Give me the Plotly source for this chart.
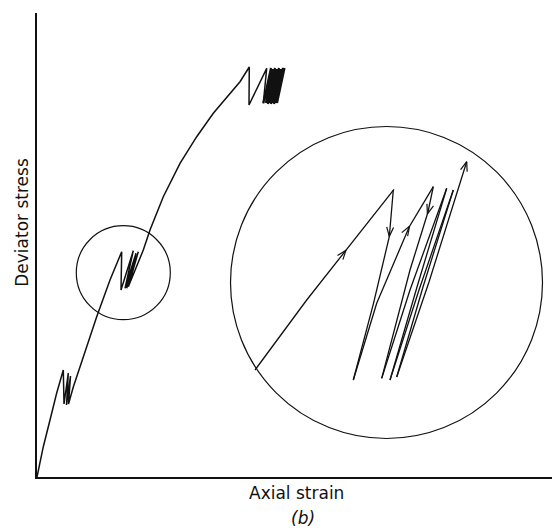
import numpy as np
import plotly.graph_objects as go

# ---------------- data (strain, stress in arbitrary units) ----------------
# main stress-strain curve with unload/reload cycles
curve_strain = [0, 6.3, 13, 19.7, 26.3,
                27, 31.3, 29.5, 33.5, 31.5, 36.3,
                46.3, 59.7, 73, 84.7,
                84, 96.3, 88, 99, 89.7, 101.3, 91.3, 104.7,
                106.3, 113, 126.3, 143, 159.7, 176.3, 193, 203, 212.3,
                212, 229.7, 226.3]
curve_stress = [0, 30.3, 57, 84, 107,
                73, 104, 72, 101, 73, 90,
                120.3, 160.3, 197, 225.3,
                187, 226.3, 188.7, 223.7, 188.7, 225.3, 190.3, 223.7,
                227, 247, 280.3, 313.7, 340.3, 363.7, 383.7, 395.3, 410,
                372, 408.7, 373.7]

# dense cluster of cycles at the top
top_cycle_peak_strain = [234, 236, 238, 240, 242, 244, 246, 247.5]
top_cycle_base_strain = [229, 231, 232.5, 234, 235.5, 237, 238.5, 240]
top_cycle_peak_stress = [409, 408, 409, 408, 409, 408, 409, 409]
top_cycle_base_stress = [374, 373, 374, 373, 374, 373, 374, 374]

# magnified view (inside the large circle)
mag_load_strain = [218, 269.7, 357]
mag_load_stress = [107, 177, 287.7]
mag_unload1_strain = [356.3, 352.3, 336.5, 316.3]
mag_unload1_stress = [287, 240.3, 173.7, 97]
mag_reload1_strain = [316.3, 339.7, 372.3, 396.3]
mag_reload1_stress = [97, 173.7, 250.3, 290.3]
mag_unload2_strain = [396.3, 391, 373, 344.7]
mag_unload2_stress = [290.3, 265, 207, 98.7]
mag_reload2_strain = [344.7, 373, 409.7]
mag_reload2_stress = [98.7, 187, 288.7]
mag_unload3_strain = [409.7, 380, 353]
mag_unload3_stress = [288.7, 190, 97]
mag_reload3_strain = [353, 382, 416.3]
mag_reload3_stress = [97, 187, 287]
mag_unload4_strain = [416.3, 386, 359.7]
mag_unload4_stress = [287, 190, 100]
mag_reload4_strain = [359.7, 392, 429.7]
mag_reload4_stress = [100, 195, 315.3]

# arrows: (path name, fraction of arc length)
arrow_marks = [("load", 0.66), ("unload1", 0.24), ("reload1", 0.78),
               ("unload2", 0.14), ("reload4", 1.0)]

# circles: centre strain, centre stress, radius
circle_cx = [86.3, 349.5]
circle_cy = [204.3, 194.5]
circle_r = [47, 156]

# ---------------- figure ----------------
fig = go.Figure()
black = "#111"

def add_line(xs, ys, w=1.4):
    fig.add_trace(go.Scatter(x=xs, y=ys, mode="lines",
                             line=dict(color=black, width=w),
                             hoverinfo="skip", showlegend=False))

add_line(curve_strain, curve_stress, 1.5)

zx, zy = [curve_strain[-1]], [curve_stress[-1]]
for px, py, bx, by in zip(top_cycle_peak_strain, top_cycle_peak_stress,
                          top_cycle_base_strain, top_cycle_base_stress):
    zx += [px, bx]
    zy += [py, by]
add_line(zx, zy, 2.2)

paths = {
    "load": (mag_load_strain, mag_load_stress),
    "unload1": (mag_unload1_strain, mag_unload1_stress),
    "reload1": (mag_reload1_strain, mag_reload1_stress),
    "unload2": (mag_unload2_strain, mag_unload2_stress),
    "reload2": (mag_reload2_strain, mag_reload2_stress),
    "unload3": (mag_unload3_strain, mag_unload3_stress),
    "reload3": (mag_reload3_strain, mag_reload3_stress),
    "unload4": (mag_unload4_strain, mag_unload4_stress),
    "reload4": (mag_reload4_strain, mag_reload4_stress),
}
for name, (xs, ys) in paths.items():
    add_line(xs, ys, 1.3)

def point_on_path(xs, ys, frac):
    xs = np.asarray(xs, float); ys = np.asarray(ys, float)
    seg = np.hypot(np.diff(xs), np.diff(ys))
    cum = np.concatenate([[0], np.cumsum(seg)])
    s = frac * cum[-1]
    i = min(np.searchsorted(cum, s, side="right") - 1, len(seg) - 1)
    t = (s - cum[i]) / seg[i]
    x = xs[i] + t * (xs[i + 1] - xs[i])
    y = ys[i] + t * (ys[i + 1] - ys[i])
    ang = np.arctan2(ys[i + 1] - ys[i], xs[i + 1] - xs[i])
    return x, y, ang

head_len, head_ang = 10.0, np.radians(20)
ax_, ay_ = [], []
for name, frac in arrow_marks:
    xs, ys = paths[name]
    x, y, a = point_on_path(xs, ys, frac)
    for sgn in (-1, 1):
        b = a + np.pi + sgn * head_ang
        ax_ += [x, x + head_len * np.cos(b), None]
        ay_ += [y, y + head_len * np.sin(b), None]
add_line(ax_, ay_, 1.2)

shapes = []
for cx, cy, r in zip(circle_cx, circle_cy, circle_r):
    shapes.append(dict(type="circle", xref="x", yref="y",
                       x0=cx - r, x1=cx + r, y0=cy - r, y1=cy + r,
                       line=dict(color=black, width=1.2)))

font = dict(family="DejaVu Sans, sans-serif", size=17, color="#111")
annotations = [
    dict(text="Deviator stress", xref="paper", yref="paper", x=-0.029, y=0.55,
         textangle=-90, showarrow=False, font=font, xanchor="center", yanchor="middle"),
    dict(text="Axial strain", xref="paper", yref="paper", x=0.501, y=-0.035,
         showarrow=False, font=font, xanchor="center", yanchor="middle"),
    dict(text="<i>(b)</i>", xref="paper", yref="paper", x=0.513, y=-0.088,
         showarrow=False, font=font, xanchor="center", yanchor="middle"),
]

axis_common = dict(showgrid=False, zeroline=False, showticklabels=False,
                   ticks="", showline=True, linecolor=black, linewidth=1.5)
# page body has an 8px default margin; figure sized to fit the window
fig.update_layout(
    width=552, height=522,
    margin=dict(l=29, r=5, t=5, b=53),
    paper_bgcolor="white", plot_bgcolor="white",
    xaxis=dict(range=[0, 518], **axis_common),
    yaxis=dict(range=[0, 464], **axis_common),
    shapes=shapes, annotations=annotations,
)
fig.write_html("out.html")
